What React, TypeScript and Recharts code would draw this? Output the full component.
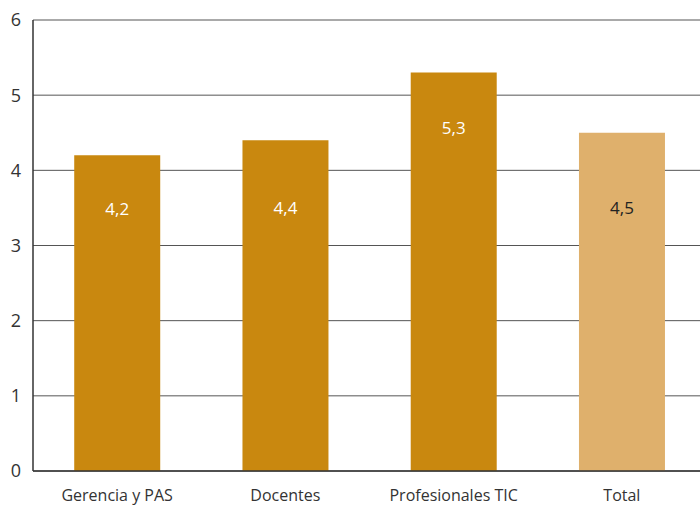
import { BarChart, Bar, XAxis, YAxis, CartesianGrid, Cell, LabelList } from "recharts";

const categories = ["Gerencia y PAS", "Docentes", "Profesionales TIC", "Total"];
const values = [4.2, 4.4, 5.3, 4.5];
const barColors = ["#c9880f", "#c9880f", "#c9880f", "#dfb06c"];
const labelColors = ["#ffffff", "#ffffff", "#ffffff", "#222222"];
const yTicks = [0, 1, 2, 3, 4, 5, 6];

const data = categories.map((name, i) => ({ name, value: values[i] }));

const FONT = "'Open Sans', sans-serif";

// value label sits around the 3.5 line, or just under the top of tall bars
const BarLabel = (props: any) => {
  const { x, y, width, height, value, index } = props;
  const bottom = y + height;
  const y35 = bottom - (height * 3.5) / value;
  const cy = y35 - y > 100 ? y + 55 : Math.max(y35, y + 53);
  return (
    <text
      x={x + width / 2}
      y={cy}
      textAnchor="middle"
      dominantBaseline="central"
      fill={labelColors[index]}
      fontSize={17}
      fontFamily={FONT}
    >
      {String(value).replace(".", ",")}
    </text>
  );
};

export default function App() {
  return (
    <div style={{ position: "absolute", left: 0, top: 0, width: 700, height: 506, overflow: "hidden", background: "#fff" }}>
      <BarChart
        width={706}
        height={506}
        data={data}
        margin={{ top: 20, right: 0, bottom: 0, left: 0 }}
        barCategoryGap="24.5%"
      >
        <CartesianGrid vertical={false} stroke="#555" strokeWidth={1} />
        <XAxis
          dataKey="name"
          height={35}
          tickLine={false}
          tickSize={0}
          tickMargin={19}
          axisLine={{ stroke: "#333", strokeWidth: 1.5 }}
          tick={{ fill: "#333", fontSize: 16, fontFamily: FONT }}
        />
        <YAxis
          width={33}
          domain={[0, 6]}
          ticks={yTicks}
          tickLine={false}
          tickSize={0}
          tickMargin={12}
          axisLine={{ stroke: "#333", strokeWidth: 1.5 }}
          tick={{ fill: "#333", fontSize: 18, fontFamily: FONT }}
        />
        <Bar dataKey="value" isAnimationActive={false}>
          {data.map((d, i) => (
            <Cell key={d.name} fill={barColors[i]} />
          ))}
          <LabelList dataKey="value" content={<BarLabel />} />
        </Bar>
      </BarChart>
    </div>
  );
}
